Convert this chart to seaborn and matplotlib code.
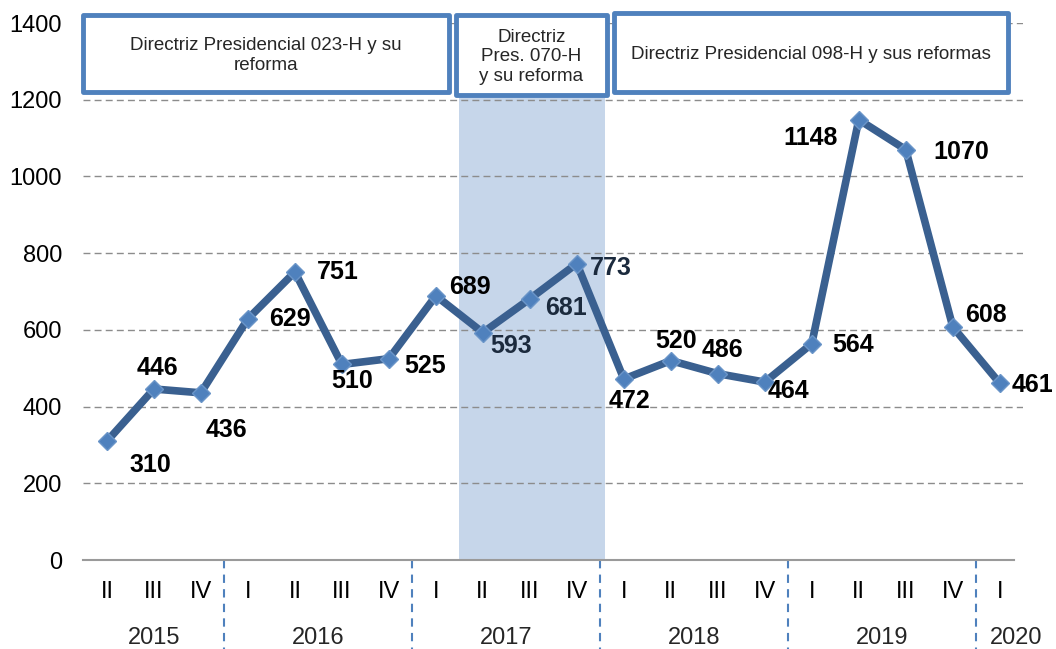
import numpy as np
import pandas as pd
import seaborn as sns
import matplotlib.pyplot as plt
from matplotlib.patches import Rectangle
import matplotlib.transforms as mtransforms

# data
years = ['2015', '2016', '2017', '2018', '2019', '2020']
quarters_per_year = [['II', 'III', 'IV'],
                     ['I', 'II', 'III', 'IV'],
                     ['I', 'II', 'III', 'IV'],
                     ['I', 'II', 'III', 'IV'],
                     ['I', 'II', 'III', 'IV'],
                     ['I']]
values = [310, 446, 436, 629, 751, 510, 525, 689, 593, 681, 773,
          472, 520, 486, 464, 564, 1148, 1070, 608, 461]

directives = ['Directriz Presidencial 023-H y su\nreforma',
              'Directriz\nPres. 070-H\ny su reforma',
              'Directriz Presidencial 098-H y sus reformas']
# box spans in category units (x0, x1, y0, y1)
directive_boxes = [(-0.5, 7.28, 1220, 1421),
                   (7.42, 10.64, 1212, 1421),
                   (10.79, 19.18, 1220, 1426)]
shade_span = (7.5, 10.6)

# label offsets in pixels (dx, dy) -- dy positive = down
label_offsets = [(43, 24), (4, -21), (26, 37), (42, 0), (43, 0), (10, 17),
                 (36, 7), (34, -9), (28, 13), (36, 9), (34, 4), (6, 22),
                 (5, -20), (5, -24), (24, 9), (41, 1), (-48, 18), (55, 2),
                 (33, -12), (33, 2)]

quarters = [q for qs in quarters_per_year for q in qs]
x = np.arange(len(values))
df = pd.DataFrame({'x': x, 'value': values, 'quarter': quarters})

sns.set_style('white')
plt.rcParams['font.family'] = ['Liberation Sans', 'DejaVu Sans']

fig = plt.figure(figsize=(10.56, 6.49), dpi=100)
ax = fig.add_axes([0.079, 0.137, 0.890, 0.8275])

line_color = '#3A6090'
marker_color = '#4F81BD'
box_color = '#4F81BD'

ax.axvspan(shade_span[0], shade_span[1], color='#C6D6EA', zorder=0, lw=0)

sns.lineplot(data=df, x='x', y='value', ax=ax, color=line_color, lw=5.5,
             marker='D', markersize=9.5, markerfacecolor=marker_color,
             markeredgecolor='#6A95C8', markeredgewidth=1, zorder=3)

ax.set_xlim(-0.5, 19.5)
ax.set_ylim(0, 1400)
ax.set_yticks(range(0, 1401, 200))
ax.set_xticks(x)
ax.set_xticklabels(quarters)
ax.tick_params(axis='both', length=0, labelsize=17, colors='black')
ax.tick_params(axis='x', pad=15)
ax.tick_params(axis='y', pad=15.5)
ax.set_xlabel('')
ax.set_ylabel('')

for y in range(200, 1401, 200):
    ax.axhline(y, color='#8C8C8C', lw=1, ls=(0, (5, 3)), zorder=1)

for side in ['left', 'right', 'top']:
    ax.spines[side].set_visible(False)
ax.spines['bottom'].set_color('#9A9A9A')
ax.spines['bottom'].set_linewidth(1.5)
ax.spines['bottom'].set_bounds(-0.5, 19.3)

# data labels
for i, v in enumerate(values):
    dx, dy = label_offsets[i]
    color = '#1B2A3D' if shade_span[0] < i < shade_span[1] else 'black'
    ax.annotate(str(v), (i, v), xytext=(dx * 0.72, -dy * 0.72),
                textcoords='offset points', ha='center', va='center',
                fontsize=18, fontweight='bold', color=color, zorder=5)

# year separators and labels
trans = mtransforms.blended_transform_factory(ax.transData, ax.transAxes)
pos = -0.5
for yr, qs in zip(years, quarters_per_year):
    center = pos + len(qs) / 2
    if yr == '2020':
        center += 0.35
    ax.text(center, -0.146, yr, transform=trans, ha='center', va='center',
            fontsize=17)
    pos += len(qs)
    if pos < len(values) - 0.5:
        ax.plot([pos, pos], [0, -0.165], transform=trans, color='#4F81BD',
                lw=1.5, ls=(0, (4, 3)), clip_on=False)

# directive boxes
for (x0, x1, y0, y1), txt in zip(directive_boxes, directives):
    rect = Rectangle((x0, y0), x1 - x0, y1 - y0, facecolor='white',
                     edgecolor=box_color, lw=3.5, joinstyle='round',
                     clip_on=False, zorder=6)
    ax.add_patch(rect)
    ax.text((x0 + x1) / 2, (y0 + y1) / 2 - 5, txt, ha='center', va='center',
            fontsize=13.5, linespacing=1.17, zorder=7, clip_on=False)

fig.savefig('out.png', dpi=100)
